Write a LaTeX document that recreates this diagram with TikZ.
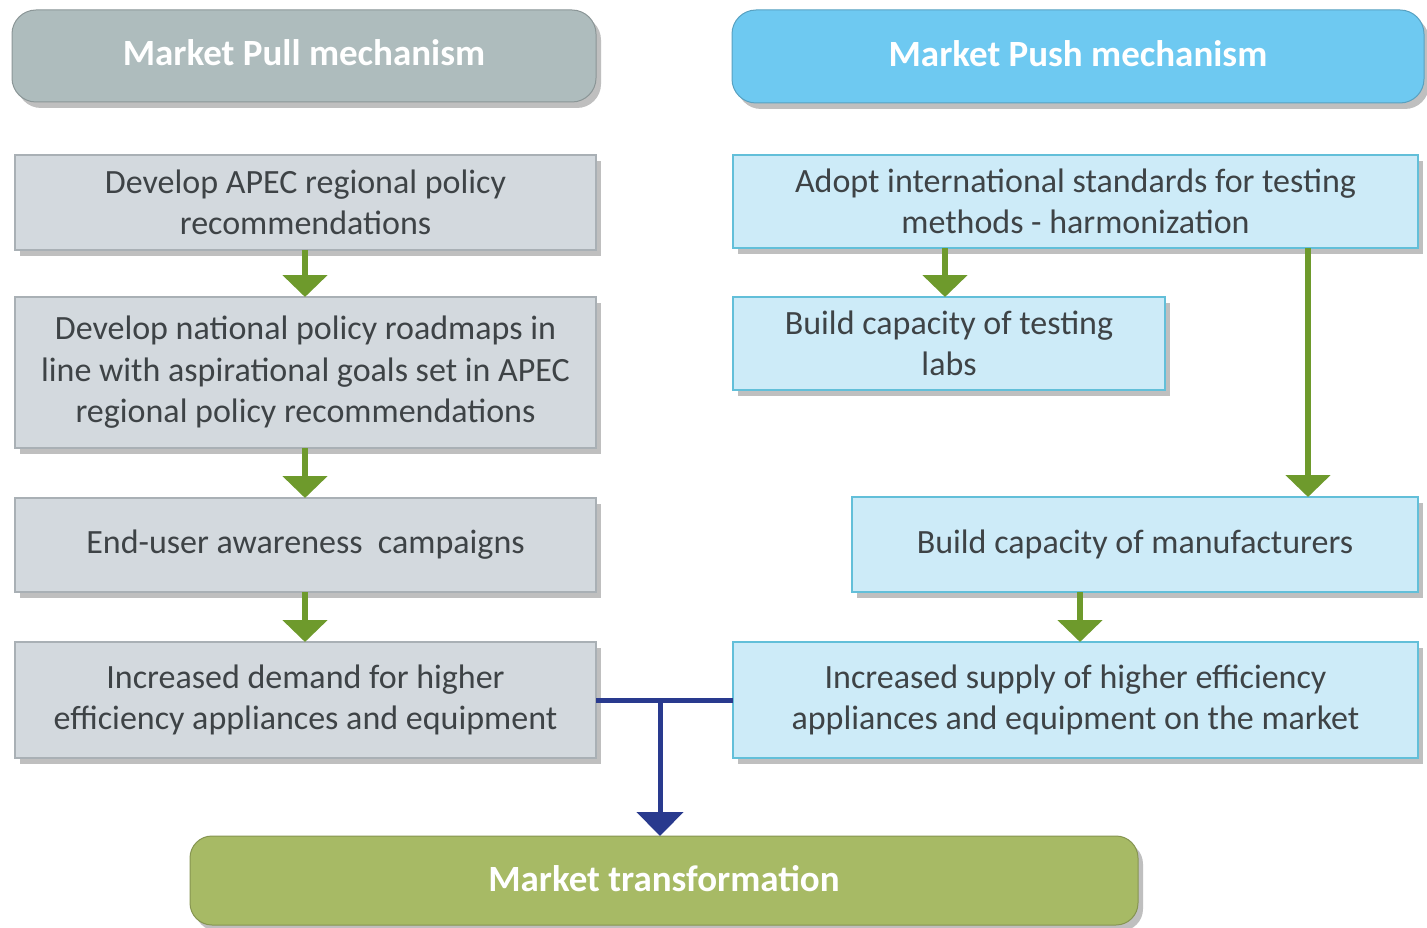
\documentclass[tikz,border=0pt]{standalone}
\usepackage{fontspec}
\setmainfont{Carlito}
\usetikzlibrary{arrows.meta,shadows}
\definecolor{pullhead}{HTML}{AEBCBD}
\definecolor{pushhead}{HTML}{6EC9F1}
\definecolor{pullbox}{HTML}{D3D9DE}
\definecolor{pullborder}{HTML}{A9B0B5}
\definecolor{pushbox}{HTML}{CDEBF8}
\definecolor{pushborder}{HTML}{62BFD9}
\definecolor{transf}{HTML}{A7BA65}
\definecolor{greenarrow}{HTML}{6E9A2C}
\definecolor{bluearrow}{HTML}{293A8E}
\definecolor{bodytext}{HTML}{3E4346}
\begin{document}
\begin{tikzpicture}[x=1pt,y=-1pt,
  shad/.style={drop shadow={shadow xshift=5pt,shadow yshift=-6pt,fill=black!45,opacity=0.55}},
  header/.style={shad,rounded corners=24pt,draw=#1!80!black,line width=1pt,fill=#1,text=white,
     font=\fontsize{37}{42}\selectfont\bfseries,outer sep=0pt},
  pullstep/.style={shad,draw=pullborder,line width=1.2pt,fill=pullbox,text=bodytext,align=center,
     font=\fontsize{34}{41.5}\selectfont,outer sep=0pt,inner sep=0pt},
  pushstep/.style={shad,draw=pushborder,line width=1.2pt,fill=pushbox,text=bodytext,align=center,
     font=\fontsize{34}{41.5}\selectfont,outer sep=0pt,inner sep=0pt},
  garrow/.style={draw=greenarrow,line width=6pt,-{Triangle[width=44pt,length=22pt]}},
  barrow/.style={draw=bluearrow,line width=5pt}
]
\useasboundingbox (0,0) rectangle (1427,928);
\fill[white] (0,0) rectangle (1427,928);
% headers
\node[header=pullhead,minimum width=584pt,minimum height=92pt,text depth=6pt] (pullh) at (304,56) {Market Pull mechanism};
\node[header=pushhead,minimum width=692pt,minimum height=93pt,text depth=6pt] (pushh) at (1078,56.5) {Market Push mechanism};
% left column
\node[pullstep,minimum width=581pt,minimum height=95pt] (l1) at (305.5,202.5) {Develop APEC regional policy\\recommendations};
\node[pullstep,minimum width=581pt,minimum height=151pt] (l2) at (305.5,372.5) {Develop national policy roadmaps in\\line with aspirational goals set in APEC\\regional policy recommendations};
\node[pullstep,minimum width=581pt,minimum height=94pt] (l3) at (305.5,545) {End-user awareness\ \ campaigns};
\node[pullstep,minimum width=581pt,minimum height=116pt] (l4) at (305.5,700) {Increased demand for higher\\efficiency appliances and equipment};
% right column
\node[pushstep,minimum width=685pt,minimum height=93pt] (r1) at (1075.5,201.5) {Adopt international standards for testing\\methods - harmonization};
\node[pushstep,minimum width=432pt,minimum height=93pt] (r2) at (949,343.5) {Build capacity of testing\\labs};
\node[pushstep,minimum width=566pt,minimum height=95pt] (r3) at (1135,544.5) {Build capacity of manufacturers};
\node[pushstep,minimum width=685pt,minimum height=116pt] (r4) at (1075.5,700) {Increased supply of higher efficiency\\appliances and equipment on the market};
% bottom
\node[header=transf,minimum width=948pt,minimum height=89pt,rounded corners=22pt,text depth=4pt] (mt) at (664,880.5) {Market transformation};
% green arrows
\draw[garrow] (l1.south -| 305,0) -- (l2.north -| 305,0);
\draw[garrow] (l2.south -| 305,0) -- (l3.north -| 305,0);
\draw[garrow] (l3.south -| 305,0) -- (l4.north -| 305,0);
\draw[garrow] (r1.south -| 945,0) -- (r2.north -| 945,0);
\draw[garrow] (r1.south -| 1308,0) -- (r3.north -| 1308,0);
\draw[garrow] (r3.south -| 1080,0) -- (r4.north -| 1080,0);
% blue connector
\coordinate (jn) at (660,700);
\draw[barrow] (l4.east) -- (r4.west);
\draw[barrow,-{Triangle[width=46pt,length=24pt]}] (jn) -- (mt.north -| jn);
\end{tikzpicture}
\end{document}
